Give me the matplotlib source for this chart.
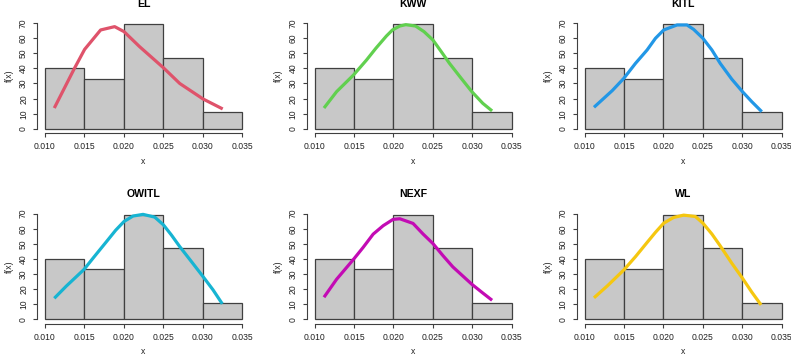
import matplotlib
matplotlib.use("Agg")
import matplotlib.pyplot as plt

plt.rcParams['font.family'] = ['Liberation Sans', 'DejaVu Sans']

# Histogram data (density)
bin_edges = [0.010, 0.015, 0.020, 0.025, 0.030, 0.035]
density = [40, 33, 69, 47, 11]

titles = ["EL", "KWW", "KITL", "OWITL", "NEXF", "WL"]
colors = ["#DF536B", "#61D04F", "#2297E6", "#17B4D2", "#C30BB4", "#F5C710"]

# Fitted curves
el_x = [0.01118, 0.01372, 0.01503, 0.01706, 0.01884, 0.02003, 0.0220, 0.02502, 0.0271, 0.03005, 0.03255]
el_y = [13.8, 39.8, 52.5, 65.3, 67.5, 64.2, 54.3, 40.4, 30.0, 19.8, 13.2]

kww_x = [0.01118, 0.01278, 0.01493, 0.01658, 0.01776, 0.0191, 0.01987, 0.0208, 0.02156, 0.0228,
         0.02387, 0.0250, 0.02606, 0.0271, 0.02859, 0.02994, 0.03133, 0.03251]
kww_y = [13.8, 24.6, 35.6, 45.5, 53.2, 61.3, 65.3, 67.9, 68.8, 67.9,
         64.2, 58.7, 51.0, 43.3, 33.4, 24.6, 16.9, 11.9]

kitl_x = [0.01118, 0.01350, 0.01497, 0.01645, 0.01792, 0.01898, 0.02003, 0.02172, 0.02298, 0.02382,
          0.02500, 0.02614, 0.02719, 0.02867, 0.03002, 0.03120, 0.03247]
kitl_y = [14.3, 25.3, 33.4, 43.3, 52.1, 59.8, 65.3, 68.6, 68.6, 65.7,
          59.8, 52.1, 43.3, 32.8, 24.6, 18.0, 11.4]

owitl_x = [0.01118, 0.01271, 0.01495, 0.0163, 0.01778, 0.01897, 0.02003, 0.02117, 0.02244, 0.02392,
           0.02502, 0.02603, 0.02709, 0.02857, 0.03005, 0.03132, 0.0325]
owitl_y = [13.9, 22.0, 33.0, 41.8, 51.3, 59.0, 64.8, 68.4, 69.5, 67.7,
           62.6, 55.9, 48.2, 38.3, 28.3, 19.5, 10.2]

nexf_x = [0.01118, 0.01278, 0.01502, 0.01616, 0.01742, 0.01869, 0.01995, 0.0208, 0.02248, 0.02375,
          0.0250, 0.02627, 0.02753, 0.02994, 0.03133, 0.03251]
nexf_y = [14.6, 26.5, 40.3, 47.7, 56.4, 62.0, 66.2, 66.6, 63.5, 56.5,
          50.2, 42.2, 34.7, 23.2, 17.4, 12.6]

wl_x = [0.01118, 0.01287, 0.01497, 0.01645, 0.01792, 0.01898, 0.02003, 0.02130, 0.02256, 0.02404,
        0.0250, 0.02614, 0.02719, 0.02867, 0.03002, 0.03120, 0.03238]
wl_y = [14.2, 22.1, 32.7, 41.5, 50.9, 57.6, 63.7, 67.5, 69.0, 68.1,
        63.7, 56.5, 48.7, 37.1, 27.2, 18.0, 9.5]

curves = [(el_x, el_y), (kww_x, kww_y), (kitl_x, kitl_y),
          (owitl_x, owitl_y), (nexf_x, nexf_y), (wl_x, wl_y)]

xticks = [0.010, 0.015, 0.020, 0.025, 0.030, 0.035]
xticklabels = ["0.010", "0.015", "0.020", "0.025", "0.030", "0.035"]
yticks = [0, 10, 20, 30, 40, 50, 60, 70]

W, H = 791, 356
fig = plt.figure(figsize=(W / 100, H / 100), dpi=100)

col_left = [37.1, 306.8, 576.8]  # px
ax_w = 212.8
rows = [(18.6, 133.2), (209.4, 323.5)]  # top, bottom px

for i in range(6):
    r, c = divmod(i, 3)
    top, bot = rows[r]
    ax = fig.add_axes([col_left[c] / W, 1 - bot / H, ax_w / W, (bot - top) / H])
    widths = [bin_edges[k + 1] - bin_edges[k] for k in range(len(density))]
    ax.bar(bin_edges[:-1], density, width=widths, align='edge',
           color='#C8C8C8', edgecolor='#404040', linewidth=0.9, zorder=1)
    cx, cy = curves[i]
    ax.plot(cx, cy, color=colors[i], linewidth=2.3, zorder=3,
            solid_capstyle='butt', solid_joinstyle='round')
    ax.set_xlim(0.009, 0.036)
    ax.set_ylim(-2.8, 72.8)
    for s in ['top', 'right']:
        ax.spines[s].set_visible(False)
    ax.spines['left'].set_bounds(0, 70)
    ax.spines['bottom'].set_bounds(0.010, 0.035)
    for s in ['left', 'bottom']:
        ax.spines[s].set_color('#404040')
        ax.spines[s].set_linewidth(0.8)
    ax.set_xticks(xticks)
    ax.set_xticklabels(xticklabels)
    ax.set_yticks(yticks)
    ax.set_yticklabels([str(v) for v in yticks], rotation=90, va='center')
    ax.tick_params(axis='both', length=3, width=0.8, color='#404040',
                   labelsize=6.2, labelcolor='#222222', pad=3.5)
    ax.set_xlabel("x", fontsize=6.2, labelpad=4, color='#222222')
    ax.set_ylabel("f(x)", fontsize=6.2, labelpad=4, color='#222222')
    ax.patch.set_alpha(0)
    # title
    fig.text((col_left[c] + ax_w / 2) / W, 1 - (top - 15) / H, titles[i],
             ha='center', va='center', fontsize=7.6, fontweight='bold')

fig.savefig("out.png", dpi=100, facecolor='white')
